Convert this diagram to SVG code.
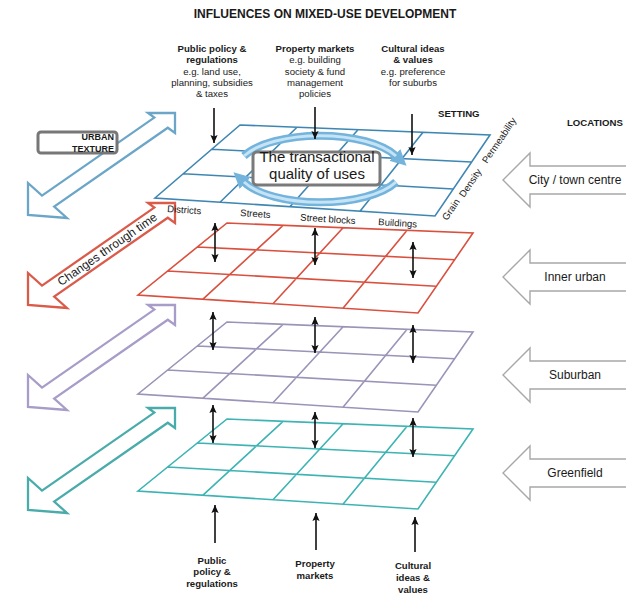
<svg xmlns="http://www.w3.org/2000/svg" width="626" height="593" viewBox="0 0 626 593">
<defs>
<style>
text{font-family:"Liberation Sans",Arial,sans-serif;fill:#1a1a1a}
.b{font-weight:bold}
.s{font-size:9.6px}
.m{text-anchor:middle}
.grid{fill:none;stroke-width:1.6;stroke-linejoin:miter}
.la{fill:#fff;stroke-width:2.3;stroke-linejoin:miter}
.ra{fill:#fff;stroke:#a8a8a8;stroke-width:1.4}
.ba{stroke:#111;stroke-width:1.6;fill:none}
.loc{font-size:12px;text-anchor:middle}
</style>
<marker id="ah" viewBox="0 0 10 10" refX="10" refY="5" markerWidth="8" markerHeight="8" markerUnits="userSpaceOnUse" orient="auto-start-reverse"><path d="M0,0.5 L10,5 L0,9.5 L2,5 z" fill="#111"/></marker>
<marker id="rh" viewBox="0 0 10 10" refX="1" refY="5" markerWidth="16" markerHeight="16" markerUnits="userSpaceOnUse" orient="auto"><path d="M0,0 L10,5 L0,10 z" fill="#74b4dc"/></marker>
<filter id="bl" x="-10%" y="-30%" width="120%" height="160%"><feGaussianBlur stdDeviation="0.7"/></filter>
<path id="larrow" d="M175,113 L175,133 L167.8,127.7 L54.2,206.5 L67,218 L28,215 L28,183 L42,195.6 L154.3,117.6 L148,113 Z"/>
<path id="rarrow" d="M503,0 L530,-27 L530,-14 L630,-14 L630,14 L530,14 L530,27 Z"/>
<path id="gridA" d="M227,223 L473,233 L418,313 L138,295 Z M197.3,247 L454.7,259.7 M167.7,271 L436.3,286.3 M283.1,225.3 L203,299.2 M343.1,227.7 L273,303.7 M407.1,230.3 L343,308.2"/>
</defs>

<g id="title">
<text class="b m" x="325" y="18" font-size="12">INFLUENCES ON MIXED-USE DEVELOPMENT</text>
</g>

<g id="influences-top" class="s">
<text class="b m" x="212" y="52">Public policy &amp;</text>
<text class="b m" x="212" y="63">regulations</text>
<text class="m" x="212" y="75">e.g. land use,</text>
<text class="m" x="212" y="86">planning, subsidies</text>
<text class="m" x="212" y="97">&amp; taxes</text>
<text class="b m" x="315" y="52">Property markets</text>
<text class="m" x="315" y="63">e.g. building</text>
<text class="m" x="315" y="75">society &amp; fund</text>
<text class="m" x="315" y="86">management</text>
<text class="m" x="315" y="97">policies</text>
<text class="b m" x="413" y="52">Cultural ideas</text>
<text class="b m" x="413" y="63">&amp; values</text>
<text class="m" x="413" y="75">e.g. preference</text>
<text class="m" x="413" y="86">for suburbs</text>
</g>

<g id="headings" class="s b">
<text x="438" y="117">SETTING</text>
<text x="567" y="126">LOCATIONS</text>
</g>

<g id="time-arrows">
<use href="#larrow" class="la" stroke="#6ba6c8"/>
<use href="#larrow" class="la" stroke="#db5b4b" transform="translate(0,90)"/>
<use href="#larrow" class="la" stroke="#a89cc8" transform="translate(0,192)"/>
<use href="#larrow" class="la" stroke="#4aabab" transform="translate(0,295)"/>
<text transform="translate(109.6,252.7) rotate(-34.76)" class="m" font-size="12">Changes through time</text>
</g>

<g id="urban-texture">
<rect x="38" y="132" width="79" height="21" rx="3" fill="#fff"/>
<rect x="38" y="132" width="79" height="21" rx="3" fill="none" stroke="#777" stroke-width="3" filter="url(#bl)"/>
<text class="b" x="114" y="140" font-size="9" text-anchor="end" fill="#333">URBAN</text>
<text class="b" x="114" y="152" font-size="9" text-anchor="end" fill="#333">TEXTURE</text>
</g>

<g id="layer-setting">
<path class="grid" stroke="#3f87b2" d="M240,125 L490,135 L435,216 L155,198 Z M211.7,149.3 L471.7,162 M183.3,173.7 L453.3,189 M297,127.3 L220,202.2 M358,129.7 L290,206.7 M423,132.3 L360,211.2"/>
<g class="s">
<text transform="translate(167,212) rotate(3.7)">Districts</text>
<text transform="translate(240,216) rotate(3.7)">Streets</text>
<text transform="translate(300,220.5) rotate(3.7)">Street blocks</text>
<text transform="translate(378,225) rotate(3.7)">Buildings</text>
<text transform="translate(447,221) rotate(-55.8)">Grain</text>
<text transform="translate(464,198) rotate(-55.8)">Density</text>
<text transform="translate(487,164) rotate(-55.8)">Permeability</text>
</g>
</g>

<g id="transactional">
<path d="M244,156 A83 34 0 0 1 396,156" fill="none" stroke="#74b4dc" stroke-width="8" marker-end="url(#rh)"/>
<path d="M396,182 A83 34 0 0 1 244,182" fill="none" stroke="#74b4dc" stroke-width="8" marker-end="url(#rh)"/>
<path d="M244,156 A83 34 0 0 1 396,156 M396,182 A83 34 0 0 1 244,182" fill="none" stroke="#c4e3f5" stroke-width="3"/>
<rect x="253" y="152" width="127" height="33" rx="4" fill="#fff"/>
<rect x="253" y="152" width="127" height="33" rx="4" fill="none" stroke="#7a7a7a" stroke-width="3" filter="url(#bl)"/>
<text class="m" x="317" y="162" font-size="15" fill="#3d8fc6">The transactional</text>
<text class="m" x="317" y="178.5" font-size="15" fill="#3d8fc6">quality of uses</text>
</g>

<g id="layer-inner">
<use href="#gridA" class="grid" stroke="#d9503f"/>
</g>
<g id="layer-suburban">
<use href="#gridA" class="grid" stroke="#9b93b8" transform="translate(0,99)"/>
</g>
<g id="layer-greenfield">
<use href="#gridA" class="grid" stroke="#3db3b3" transform="translate(0,196)"/>
</g>

<g id="connectors" class="ba">
<line x1="214" y1="108" x2="214" y2="143" marker-end="url(#ah)"/>
<line x1="315" y1="107" x2="315" y2="139" marker-end="url(#ah)"/>
<line x1="412" y1="114" x2="412" y2="155" marker-end="url(#ah)"/>
<line x1="215" y1="223" x2="215" y2="262" marker-start="url(#ah)" marker-end="url(#ah)"/>
<line x1="315" y1="228" x2="315" y2="265" marker-start="url(#ah)" marker-end="url(#ah)"/>
<line x1="413" y1="242" x2="413" y2="278" marker-start="url(#ah)" marker-end="url(#ah)"/>
<line x1="213" y1="312" x2="213" y2="350" marker-start="url(#ah)" marker-end="url(#ah)"/>
<line x1="315" y1="317" x2="315" y2="353" marker-start="url(#ah)" marker-end="url(#ah)"/>
<line x1="413" y1="325" x2="413" y2="363" marker-start="url(#ah)" marker-end="url(#ah)"/>
<line x1="213" y1="405" x2="213" y2="443" marker-start="url(#ah)" marker-end="url(#ah)"/>
<line x1="315" y1="412" x2="315" y2="448" marker-start="url(#ah)" marker-end="url(#ah)"/>
<line x1="413" y1="418" x2="413" y2="457" marker-start="url(#ah)" marker-end="url(#ah)"/>
<line x1="215" y1="543" x2="215" y2="505" marker-end="url(#ah)"/>
<line x1="316" y1="550" x2="316" y2="513" marker-end="url(#ah)"/>
<line x1="415" y1="552" x2="415" y2="517" marker-end="url(#ah)"/>
</g>

<g id="influences-bottom" class="s b">
<text class="m" x="212" y="563.5">Public</text>
<text class="m" x="212" y="575">policy &amp;</text>
<text class="m" x="212" y="586.5">regulations</text>
<text class="m" x="315" y="567">Property</text>
<text class="m" x="315" y="579">markets</text>
<text class="m" x="413" y="569">Cultural</text>
<text class="m" x="413" y="581">ideas &amp;</text>
<text class="m" x="413" y="592.5">values</text>
</g>

<g id="loc-city">
<use href="#rarrow" class="ra" transform="translate(0,180)"/>
<text class="loc" x="575" y="184">City / town centre</text>
</g>
<g id="loc-inner">
<use href="#rarrow" class="ra" stroke="#e2c2b2" transform="translate(0,277)"/>
<text class="loc" x="575" y="281">Inner urban</text>
</g>
<g id="loc-suburban">
<use href="#rarrow" class="ra" transform="translate(0,375)"/>
<text class="loc" x="575" y="379">Suburban</text>
</g>
<g id="loc-greenfield">
<use href="#rarrow" class="ra" transform="translate(0,473)"/>
<text class="loc" x="575" y="477">Greenfield</text>
</g>
</svg>
